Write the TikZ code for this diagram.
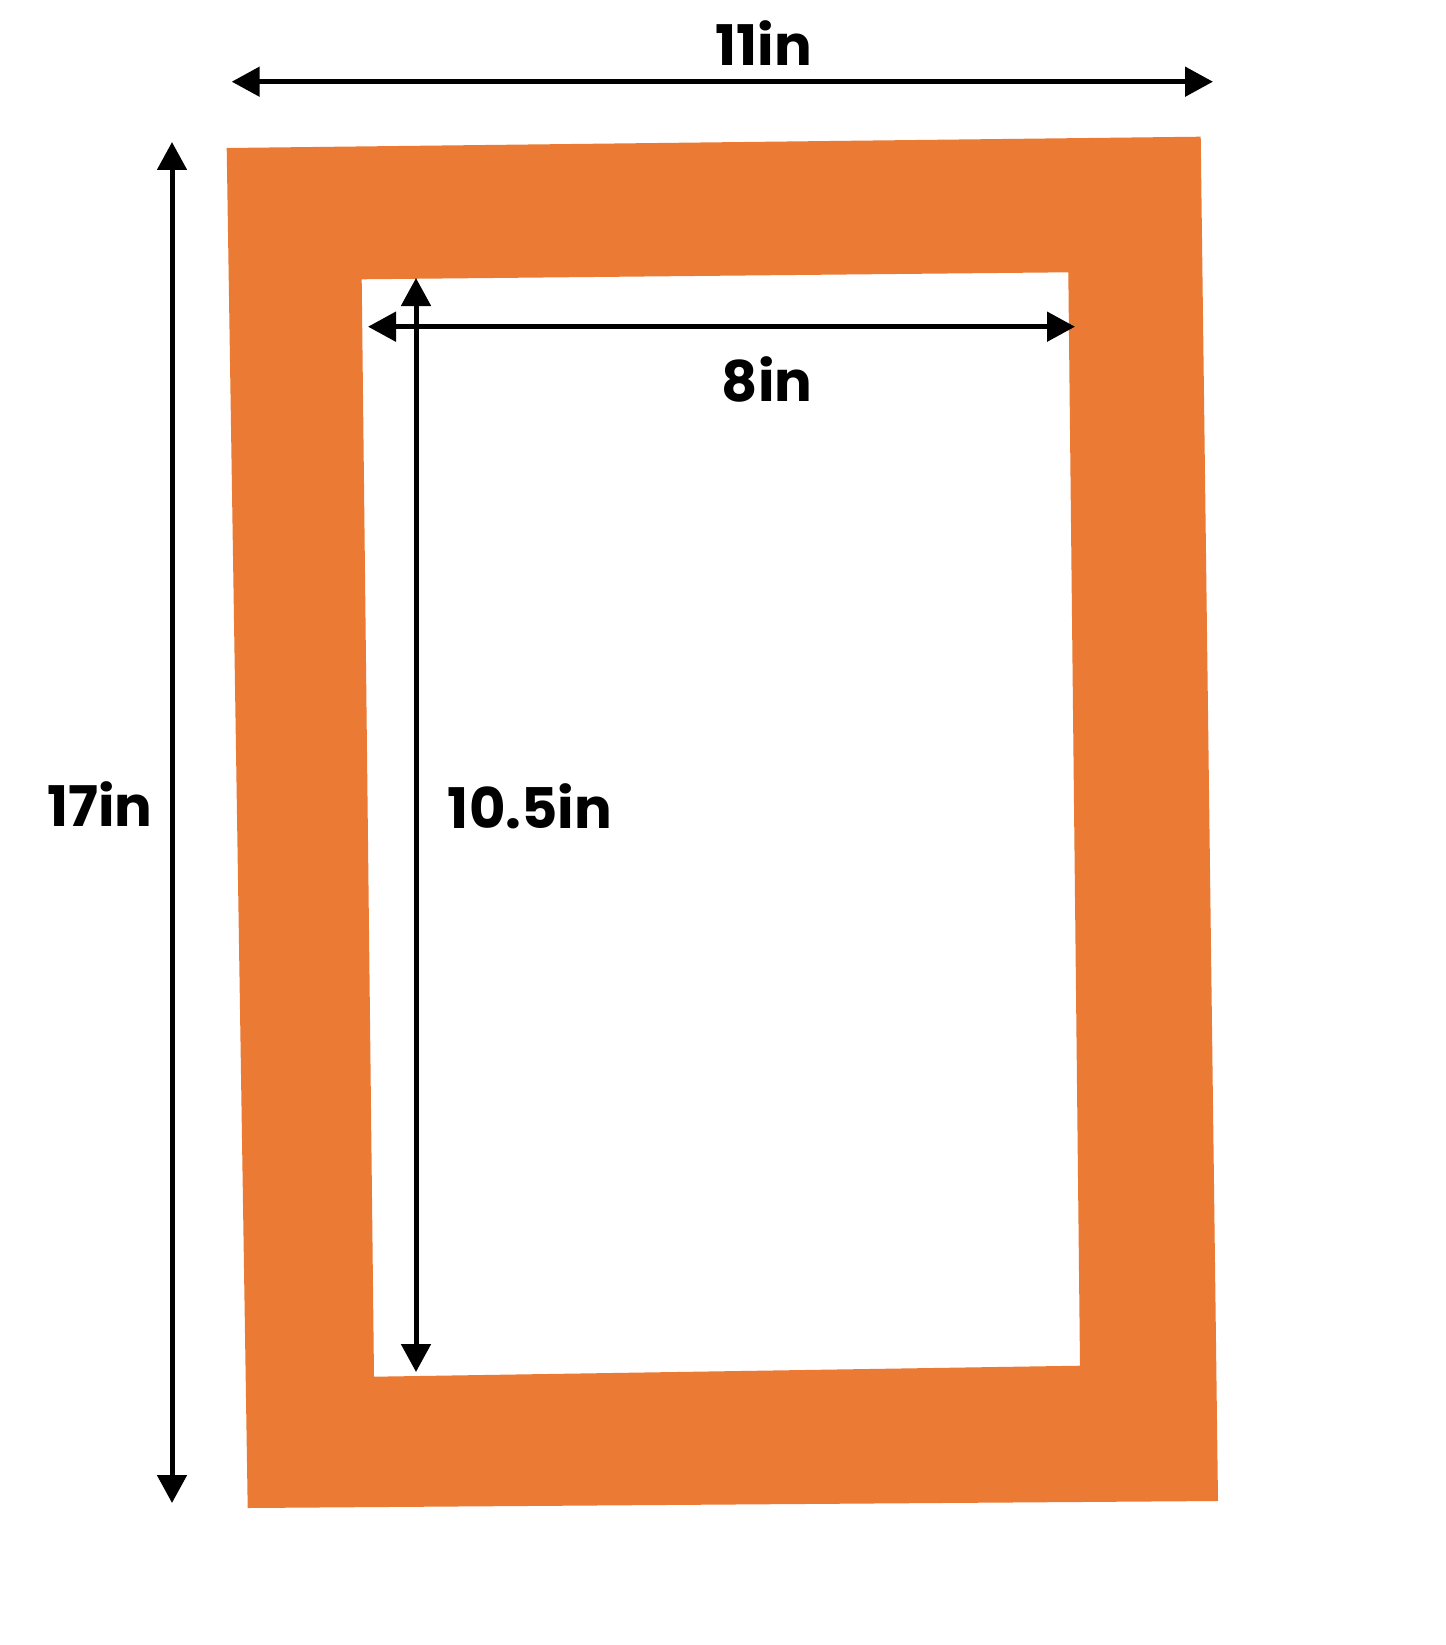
\documentclass[tikz,border=0pt]{standalone}
\usepackage{fontspec}
\newfontfamily\labelfont{Poppins}
\usetikzlibrary{arrows.meta}
\definecolor{matorange}{RGB}{234,122,52}

\begin{document}
\begin{tikzpicture}[> = {Triangle[length=28pt, width=29pt]}, % arrow head style
                x = 1pt, y = -1pt, % one unit per pixel, y pointing down
                line width = 5pt % line style
            ]

            \tikzstyle{every node}=[font = \labelfont\bfseries\fontsize{56}{60}\selectfont,
            inner sep = 0pt, anchor = base]

            \useasboundingbox (0,0) rectangle (1445,1645);

            % mat board with its opening
            \fill[matorange, even odd rule]
            (226.7,148) -- (1200.7,136.7) -- (1218,1501) -- (247.7,1508) -- cycle
            (361.7,279.3) -- (1068.3,272.3) -- (1080,1365.7) -- (374,1376.7) -- cycle;

            \coordinate (wl) at (231.7,81.7); \coordinate (wr) at (1213,81.7);
            \coordinate (ht) at (172,142); \coordinate (hb) at (172,1503);
            \coordinate (il) at (368,326.7); \coordinate (ir) at (1075,326.7);
            \coordinate (it) at (416,278); \coordinate (ib) at (416,1372);

            \path[<->] (wl) edge (wr); \path[<->] (ht) edge (hb);
            \path[<->] (il) edge (ir); \path[<->] (it) edge (ib);

            \node (width) at (764,66) {11in}; \node (height) at (100,826)
            {17in}; \node (iwidth) at (767,401) {8in}; \node (iheight) at
            (530,828) {10.5in}; \end{tikzpicture}
\end{document}
